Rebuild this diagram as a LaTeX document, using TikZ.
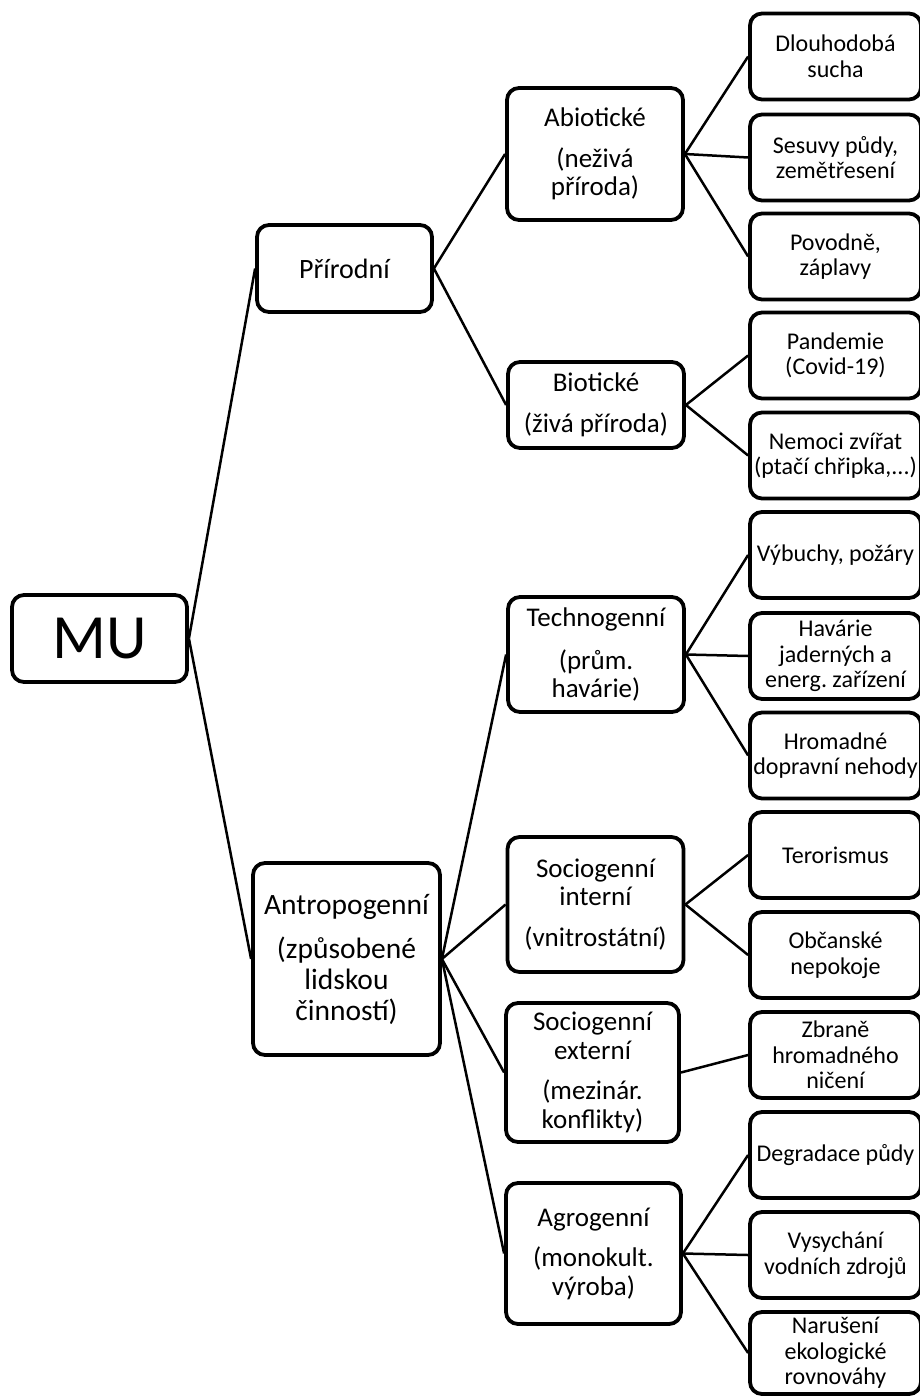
\documentclass[tikz,border=0pt]{standalone}
\usepackage{fontspec}
\setmainfont{Carlito}
\frenchspacing
\begin{document}
\begin{tikzpicture}[x=1pt,y=-1pt,
  box/.style={draw, line width=3.8pt, rounded corners=12pt, inner sep=0pt, align=center},
  mid/.style={box, minimum width=176pt, font=\fontsize{27}{28.5}\selectfont},
  leaf/.style={box, minimum width=171pt, minimum height=86pt, font=\fontsize{24}{25.5}\selectfont},
  link/.style={line width=2.5pt}]
\useasboundingbox (0,0) rectangle (919,1396);

% root
\node[box, minimum width=175pt, minimum height=87pt, font=\fontsize{63}{63}\selectfont] (mu) at (99.5,638.5) {MU};

% level 1
\node[mid, minimum width=175pt, minimum height=87pt, font=\fontsize{28}{29}\selectfont] (pri) at (344.5,268.5) {Přírodní};
\node[mid, minimum width=187pt, minimum height=192pt, font=\fontsize{29.5}{31}\selectfont] (ant) at (346.5,959) {Antropogenní\\[13pt](způsobené\\lidskou\\činností)};

% level 2
\node[mid, minimum height=132pt] (abio) at (595,154) {Abiotické\\[12pt](neživá\\příroda)};
\node[mid, minimum height=86pt] (bio) at (596,405) {Biotické\\[12pt](živá příroda)};
\node[mid, minimum height=115pt] (tech) at (596,654.5) {Technogenní\\[14pt](prům.\\havárie)};
\node[mid, minimum height=135pt] (sint) at (595.5,904.5) {Sociogenní\\interní\\[12pt](vnitrostátní)};
\node[mid, minimum width=173pt, minimum height=139pt] (sext) at (592.5,1072.5) {Sociogenní\\externí\\[12pt](mezinár.\\konflikty)};
\node[mid, minimum width=175pt, minimum height=141pt] (agro) at (593.5,1253.5) {Agrogenní\\[12pt](monokult.\\výroba)};

% level 3
\node[leaf] (l1) at (835.5,56.5) {Dlouhodobá\\sucha};
\node[leaf] (l2) at (835.5,157.5) {Sesuvy půdy,\\zemětřesení};
\node[leaf] (l3) at (835.5,256.5) {Povodně,\\záplavy};
\node[leaf] (l4) at (835.5,355.5) {Pandemie\\(Covid-19)};
\node[leaf] (l5) at (835.5,455.5) {Nemoci zvířat\\(ptačí chřipka,...)};
\node[leaf] (l6) at (835.5,555) {Výbuchy, požáry};
\node[leaf] (l7) at (835.5,656) {Havárie\\jaderných a\\energ. zařízení};
\node[leaf] (l8) at (835.5,755.5) {Hromadné\\dopravní nehody};
\node[leaf] (l9) at (835.5,855) {Terorismus};
\node[leaf] (l10) at (835.5,955) {Občanské\\nepokoje};
\node[leaf] (l11) at (835.5,1055) {Zbraně\\hromadného\\ničení};
\node[leaf] (l12) at (835.5,1155) {Degradace půdy};
\node[leaf] (l13) at (835.5,1255) {Vysychání\\vodních zdrojů};
\node[leaf, minimum height=82pt] (l14) at (835.5,1353) {Narušení\\ekologické\\rovnováhy};

% connectors
\draw[link] (mu.east) -- (pri.west);
\draw[link] (mu.east) -- (ant.west);
\draw[link] (pri.east) -- (abio.west);
\draw[link] (pri.east) -- (bio.west);
\draw[link] (ant.east) -- (tech.west);
\draw[link] (ant.east) -- (sint.west);
\draw[link] (ant.east) -- (sext.west);
\draw[link] (ant.east) -- (agro.west);
\draw[link] (abio.east) -- (l1.west);
\draw[link] (abio.east) -- (l2.west);
\draw[link] (abio.east) -- (l3.west);
\draw[link] (bio.east) -- (l4.west);
\draw[link] (bio.east) -- (l5.west);
\draw[link] (tech.east) -- (l6.west);
\draw[link] (tech.east) -- (l7.west);
\draw[link] (tech.east) -- (l8.west);
\draw[link] (sint.east) -- (l9.west);
\draw[link] (sint.east) -- (l10.west);
\draw[link] (sext.east) -- (l11.west);
\draw[link] (agro.east) -- (l12.west);
\draw[link] (agro.east) -- (l13.west);
\draw[link] (agro.east) -- (l14.west);
\end{tikzpicture}
\end{document}
